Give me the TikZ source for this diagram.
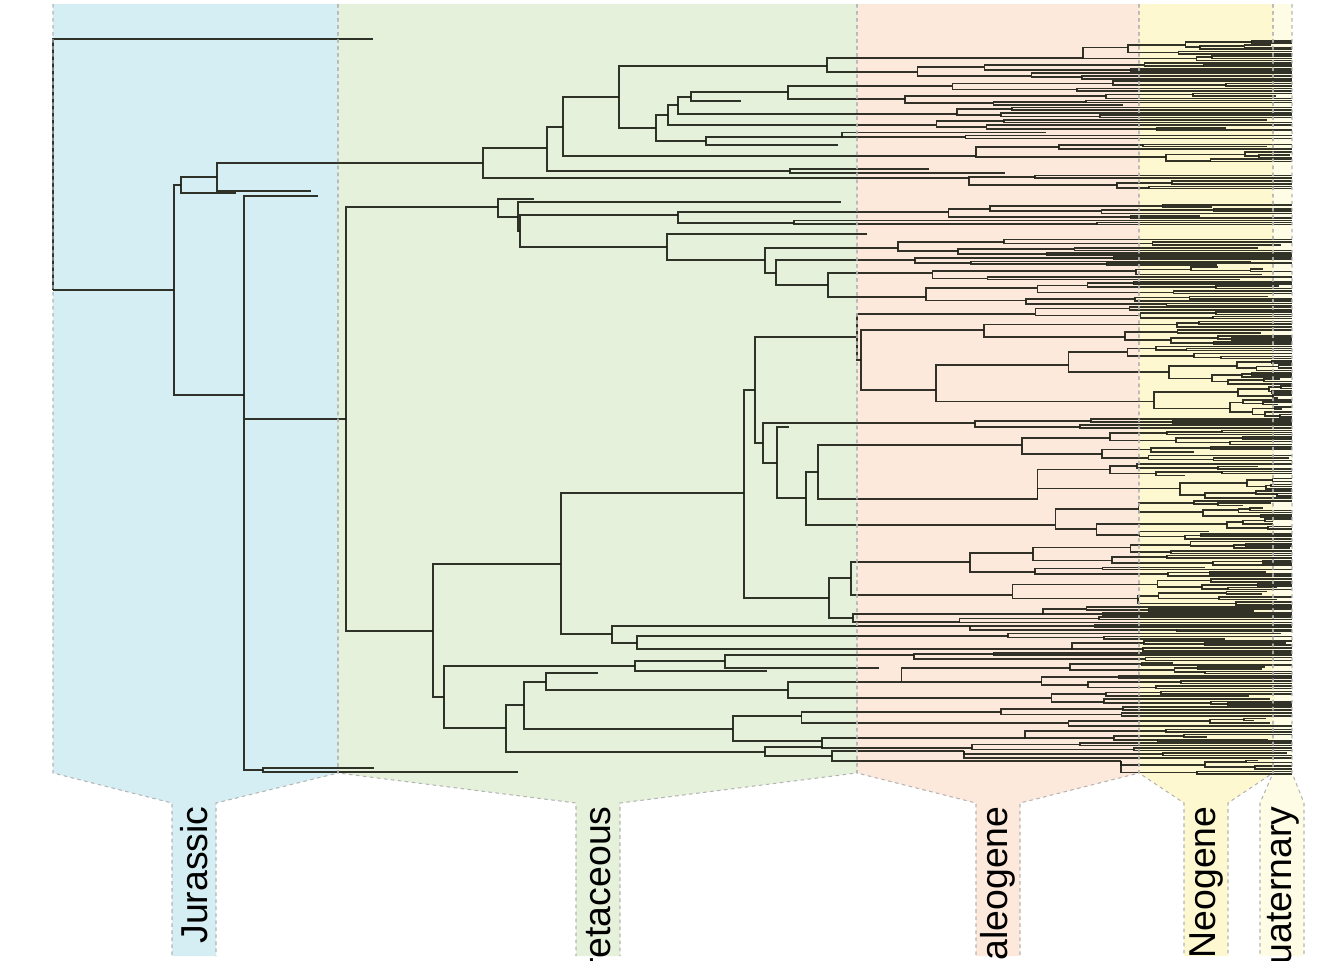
\documentclass[tikz,border=0pt]{standalone}
\usepackage{fontspec}
\setmainfont{Liberation Sans}

\definecolor{jura}{RGB}{213,238,243}
\definecolor{cret}{RGB}{229,241,218}
\definecolor{pale}{RGB}{253,232,220}
\definecolor{neog}{RGB}{254,248,208}
\definecolor{quat}{RGB}{254,252,228}
\definecolor{edgegray}{RGB}{180,180,180}
\definecolor{treeink}{RGB}{28,30,20}

\tikzset{
    branch/.style={line width=0.95pt, draw=treeink, draw opacity=0.9},
    era edge/.style={draw=edgegray, line width=0.6pt, dash pattern=on 2pt off 2pt},
    era label/.style={rotate=90, anchor=east, inner sep=0pt,
        font=\fontsize{21.3}{25}\selectfont}
}

\newcommand\present{1292}

% lineage from parent (#1,#2) at height #3, filling the tip slots #4..#5
\newcommand\sprout[5]{%
    \begingroup
    \pgfmathsetmacro\px{#1}\pgfmathsetmacro\py{#2}\pgfmathsetmacro\oy{#3}%
    \pgfmathsetmacro\slo{#4}\pgfmathsetmacro\shi{#5}%
    \pgfmathsetmacro\slot{\shi-\slo}%
    \ifdim\slot pt<3.6pt
        \pgfmathsetmacro\xe{rnd<0.78 ? \present : \px+(0.2+0.8*rnd)*(\present-\px)}%
        \draw[branch] (\px,\py) |- (\xe,\oy);
    \else
        \pgfmathsetmacro\xc{\px+(0.12+0.55*rnd)*(\present-\px)}%
        \pgfmathsetmacro\ym{\slo+(0.3+0.4*rnd)*\slot}%
        \draw[branch] (\px,\py) |- (\xc,\oy);
        \sprout{\xc}{\oy}{(\slo+\ym)/2}{\slo}{\ym}%
        \sprout{\xc}{\oy}{(\ym+\shi)/2}{\ym}{\shi}%
    \fi
    \endgroup}

\begin{document}
\begin{tikzpicture}[x=0.02cm, y=-0.02cm]
    \useasboundingbox (0,0) rectangle (1344,960);
    \pgfmathsetseed{7}

    % geological periods
    \foreach \xl/\xr/\tc/\col in {53/338/194/jura, 338/857/598/cret,
        857/1139/998/pale, 1139/1273/1206/neog, 1273/1292/1282/quat}
    {
        \fill[fill=\col] (\xl,4) -- (\xl,773) -- (\tc-22,803) -- (\tc-22,956)
            -- (\tc+22,956) -- (\tc+22,803) -- (\xr,773) -- (\xr,4) -- cycle;
    }

    % Jurassic backbone
    \draw[branch] (53,290) |- (373,39) (53,290) -- (174,290);
    \draw[branch] (174,290) |- (181,185) (174,290) |- (244,395);
    \draw[branch] (181,185) |- (217,177) (181,185) |- (236,193);
    \draw[branch] (217,177) |- (483,163) (217,177) |- (311,191);
    \draw[branch] (244,395) |- (318,196) (244,395) |- (346,419) (244,395) |- (263,770);
    \draw[branch] (263,770) |- (374,768) (263,770) |- (518,772);

    % upper clade
    \draw[branch] (483,163) |- (547,148);
    \sprout{483}{163}{178}{174}{190}
    \draw[branch] (547,148) |- (563,127) (547,148) |- (790,171);
    \draw[branch] (790,171) |- (929,169) (790,171) |- (1005,173);
    \draw[branch] (563,127) |- (619,97);
    \sprout{563}{127}{156}{143}{163}
    \draw[branch] (619,97) |- (827,66) (619,97) |- (656,128);
    \sprout{827}{66}{58}{40}{62}
    \sprout{827}{66}{72}{62}{80}
    \draw[branch] (656,128) |- (668,115) (656,128) |- (706,141);
    \sprout{706}{141}{137}{131}{140}
    \draw[branch] (706,141) |- (838,145);
    \draw[branch] (668,115) |- (678,105);
    \sprout{668}{115}{125}{119}{131}
    \draw[branch] (678,105) |- (691,97);
    \sprout{678}{105}{114}{106}{119}
    \draw[branch] (691,97) |- (788,92) (691,97) |- (741,101);
    \sprout{788}{92}{86}{80}{92}
    \sprout{788}{92}{99}{92}{106}

    % middle clade
    \draw[branch] (346,419) |- (498,207) (346,419) |- (433,631);
    \draw[branch] (498,207) |- (534,199) (498,207) |- (518,217);
    \draw[branch] (518,217) |- (841,202) (518,217) |- (520,231);
    \sprout{520}{231}{215}{204}{226}
    \draw[branch] (520,231) |- (667,247);
    \draw[branch] (667,247) |- (867,234) (667,247) |- (765,260);
    \sprout{765}{260}{248}{238}{256}
    \draw[branch] (765,260) |- (776,273);
    \sprout{776}{273}{260}{256}{266}
    \draw[branch] (776,273) |- (828,285);
    \sprout{828}{285}{273}{266}{281}
    \sprout{828}{285}{297}{281}{306}

    % lower clade
    \draw[branch] (433,631) |- (561,564) (433,631) |- (444,697);
    \draw[branch] (561,564) |- (744,493) (561,564) |- (612,634);
    \draw[branch] (744,493) |- (755,390) (744,493) |- (829,598);
    \draw[branch] (755,390) |- (857,337) (755,390) |- (763,443);
    \sprout{857}{337}{314}{306}{320}
    \draw[branch] (857,337) |- (861,360);
    \sprout{861}{360}{330}{320}{345}
    \sprout{861}{360}{390}{345}{418}
    \sprout{763}{443}{423}{418}{430}
    \draw[branch] (763,443) |- (777,463);
    \draw[branch] (777,463) |- (789,427) (777,463) |- (806,498);
    \draw[branch] (806,498) |- (818,472);
    \sprout{806}{498}{525}{500}{540}
    \sprout{818}{472}{445}{430}{462}
    \sprout{818}{472}{499}{462}{500}
    \draw[branch] (829,598) |- (851,578) (829,598) |- (853,618);
    \sprout{851}{578}{562}{540}{578}
    \sprout{851}{578}{595}{578}{606}
    \sprout{853}{618}{614}{606}{616}
    \sprout{853}{618}{622}{616}{624}
    \sprout{612}{634}{626}{624}{632}
    \draw[branch] (612,634) |- (637,643);
    \sprout{637}{643}{636}{632}{640}
    \sprout{637}{643}{649}{640}{652}
    \draw[branch] (444,697) |- (635,666) (444,697) |- (506,728);
    \draw[branch] (635,666) |- (725,661) (635,666) |- (767,671);
    \sprout{725}{661}{655}{652}{662}
    \draw[branch] (725,661) |- (879,668);
    \draw[branch] (506,728) |- (524,705) (506,728) |- (765,752);
    \draw[branch] (524,705) |- (546,682) (524,705) |- (733,729);
    \draw[branch] (546,682) |- (598,673) (546,682) |- (788,690);
    \sprout{788}{690}{682}{662}{690}
    \sprout{788}{690}{698}{690}{706}
    \sprout{733}{729}{716}{706}{728}
    \draw[branch] (733,729) |- (822,741);
    \sprout{822}{741}{738}{728}{742}
    \sprout{822}{741}{748}{742}{752}
    \draw[branch] (765,752) |- (823,747) (765,752) |- (832,756);
    \sprout{832}{756}{751}{752}{760}
    \sprout{832}{756}{761}{760}{775}

    % period borders and names
    \foreach \xl/\xr/\tc/\name in {53/338/194/Jurassic, 338/857/598/Cretaceous,
        857/1139/998/Paleogene, 1139/1273/1206/Neogene, 1273/1292/1282/Quaternary}
    {
        \draw[era edge] (\xl,4) -- (\xl,773) -- (\tc-22,803) -- (\tc-22,956);
        \draw[era edge] (\xr,4) -- (\xr,773) -- (\tc+22,803) -- (\tc+22,956);
        \node[era label] (\name) at (\tc,806) {\name};
    }
\end{tikzpicture}
\end{document}
